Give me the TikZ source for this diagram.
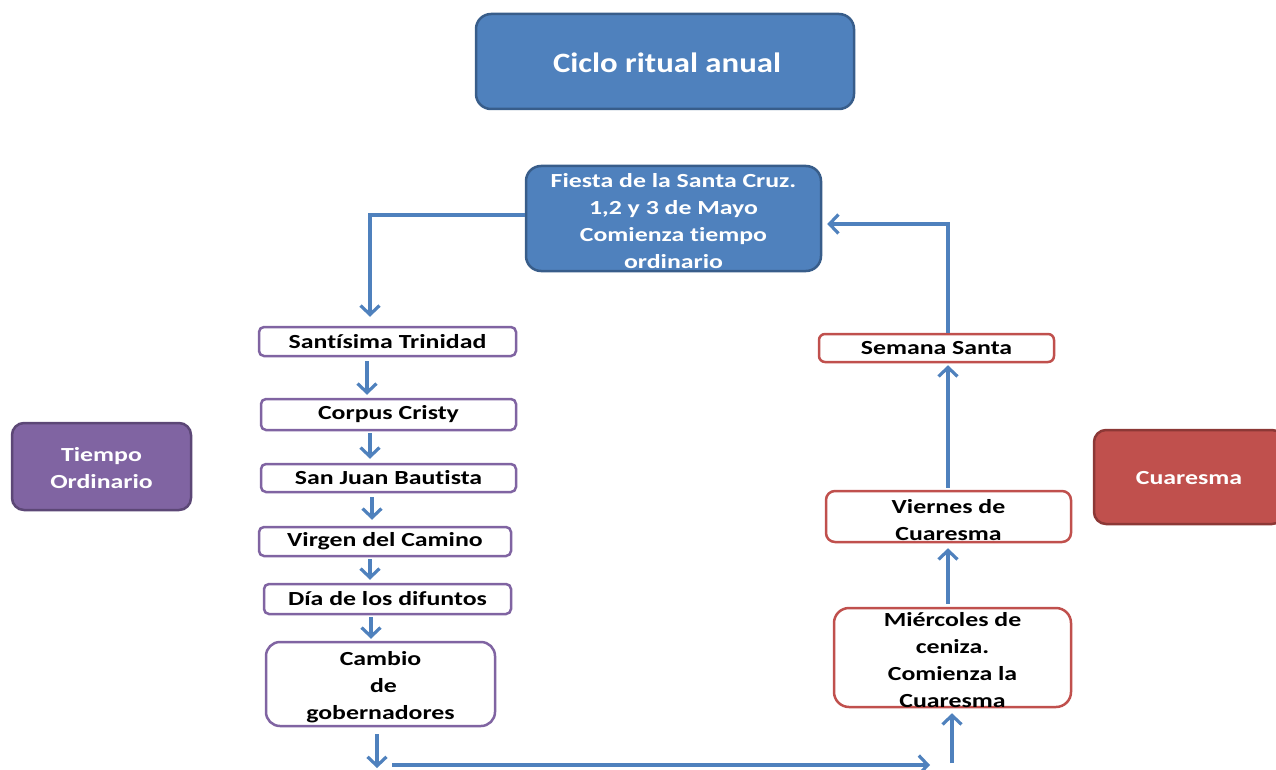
\documentclass[tikz,border=0pt]{standalone}
\usepackage{fontspec}
\setmainfont[FakeStretch=1.29,Ligatures=NoCommon]{Carlito}
\newfontfamily\titlefont[FakeStretch=1.17,Ligatures=NoCommon]{Carlito}
\usetikzlibrary{arrows.meta}
\definecolor{cblue}{HTML}{4F81BD}
\definecolor{cbluedk}{HTML}{385D8A}
\definecolor{cpurple}{HTML}{8064A2}
\definecolor{cpurpledk}{HTML}{5C4776}
\definecolor{cred}{HTML}{C0504D}
\definecolor{creddk}{HTML}{8C3836}
\begin{document}
\begin{tikzpicture}[x=1pt,y=-1pt,
  wtxt/.style={text=white, font=\fontsize{20}{27}\selectfont\bfseries, align=center, inner sep=0pt},
  btxt/.style={text=black, font=\fontsize{20}{27}\selectfont\bfseries, align=center, inner sep=0pt},
  bluebox/.style={draw=cbluedk, fill=cblue, line width=2.5pt, rounded corners=15pt, inner sep=0pt},
  purplebox/.style={draw=cpurpledk, fill=cpurple, line width=2.5pt, rounded corners=12pt, inner sep=0pt},
  redbox/.style={draw=creddk, fill=cred, line width=2.5pt, rounded corners=12pt, inner sep=0pt},
  pitem/.style={draw=cpurple, fill=white, line width=2.5pt, rounded corners=5pt, inner sep=0pt, btxt},
  ritem/.style={draw=cred, fill=white, line width=2.5pt, rounded corners=6pt, inner sep=0pt, btxt},
  arr/.style={draw=cblue, line width=3.2pt, -{Straight Barb[length=9pt,width=19pt]}},
  ln/.style={draw=cblue, line width=3pt}
]
\useasboundingbox (0,0) rectangle (1276,770);

% title
\node[bluebox, minimum width=378, minimum height=95] (title) at (665,61.5) {};
\node[wtxt, font=\titlefont\fontsize{28}{34}\selectfont\bfseries] (titlet) at (667,63) {Ciclo ritual anual};

% Fiesta
\node[bluebox, minimum width=295, minimum height=105] (fiesta) at (673.5,218.5) {};
\node[wtxt] (fiestat) at (673.5,221) {Fiesta de la Santa Cruz.\\1,2 y 3 de Mayo\\Comienza tiempo\\ordinario};

% side boxes
\node[purplebox, minimum width=179, minimum height=87] (tiempo) at (101.5,466.5) {};
\node[wtxt] (tiempot) at (101.5,468.5) {Tiempo\\Ordinario};
\node[redbox, minimum width=190, minimum height=94] (cuar) at (1189,477) {};
\node[wtxt] (cuart) at (1189,478) {Cuaresma};

% left column
\node[pitem, minimum width=257, minimum height=29] (trin) at (387.5,341.5) {Santísima Trinidad};
\node[pitem, minimum width=255, minimum height=31] (corpus) at (388.5,414.5) {Corpus Cristy};
\node[pitem, minimum width=255, minimum height=28] (sanjuan) at (388.5,478) {San Juan Bautista};
\node[pitem, minimum width=252, minimum height=29] (virgen) at (385,541.5) {Virgen del Camino};
\node[pitem, minimum width=247, minimum height=30] (dia) at (387.5,599) {Día de los difuntos};
\node[pitem, rounded corners=14pt, minimum width=229, minimum height=84] (cambio) at (380.5,684) {};
\node[btxt] (cambiot) at (380.5,687) {Cambio\\ \ de\\gobernadores};

% right column
\node[ritem, minimum width=235, minimum height=28] (semana) at (936.5,348) {Semana Santa};
\node[ritem, rounded corners=9pt, minimum width=245, minimum height=51] (viernes) at (948.5,516.5) {};
\node[btxt] (viernest) at (948.5,520) {Viernes de\\Cuaresma};
\node[ritem, rounded corners=15pt, minimum width=237, minimum height=99] (mier) at (952.5,657.5) {};
\node[btxt] (miert) at (952.5,660) {Miércoles de\\ceniza.\\Comienza la\\Cuaresma};

% connectors
\draw[arr] ([yshift=3.5pt]fiesta.west) -| ([xshift=-17.5pt,yshift=9pt]trin.north);
\draw[arr, shorten <=4pt, shorten >=3pt] (trin.south -| 367,0) -- (corpus.north -| 367,0);
\draw[arr, shorten <=2pt, shorten >=4pt] (corpus.south -| 370,0) -- (sanjuan.north -| 370,0);
\draw[arr, shorten <=4pt, shorten >=6pt] (sanjuan.south -| 372,0) -- (virgen.north -| 372,0);
\draw[arr, shorten <=2pt, shorten >=3pt] (virgen.south -| 370,0) -- (dia.north -| 370,0);
\draw[arr, shorten <=2pt, shorten >=2pt] (dia.south -| 371,0) -- (cambio.north -| 371,0);

\coordinate (d1) at (377,768);
\coordinate (h1) at (392,765);
\coordinate (h2) at (930,765);
\coordinate (u1) at (952,763);
\draw[arr, shorten <=7pt] (cambio.south -| 377,0) -- (d1);
\draw[arr] (h1) -- (h2);
\draw[arr, shorten >=5pt] (u1) -- (mier.south -| 952,0);

\draw[arr, shorten <=3pt, shorten >=5pt] (mier.north -| 948,0) -- (viernes.south -| 948,0);
\draw[arr, shorten <=2pt, shorten >=2pt] (viernes.north -| 948,0) -- (semana.south -| 948,0);
\draw[arr, shorten >=5pt] (semana.north -| 948,0) |- ([yshift=-5.5pt]fiesta.east);
\end{tikzpicture}
\end{document}
